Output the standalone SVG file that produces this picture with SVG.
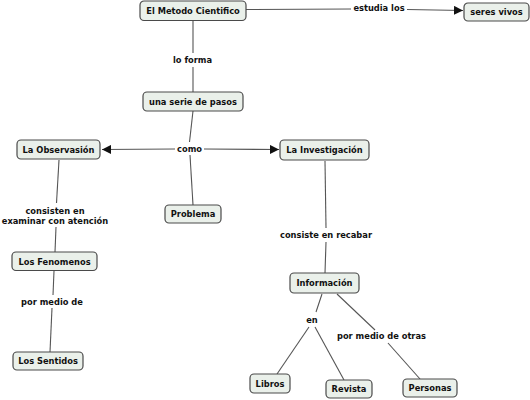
<svg xmlns="http://www.w3.org/2000/svg" width="530" height="400" viewBox="0 0 530 400">
<defs>
<style>
.n rect{fill:#eaf0ea;stroke:#4a4a4a;stroke-width:1.2}
.t{font-family:"DejaVu Sans",Verdana,sans-serif;font-weight:bold;font-size:8.3px;fill:#111;text-anchor:middle;dominant-baseline:central}
.c line{stroke:#555;stroke-width:1.1}
</style>
<marker id="ah" viewBox="0 0 10 10" refX="10" refY="5" markerWidth="9" markerHeight="9" markerUnits="userSpaceOnUse" orient="auto">
<path d="M0,0 L10,5 L0,10 z" fill="#111"/>
</marker>
</defs>
<rect width="530" height="400" fill="#fff"/>
<g id="connectors" class="c">
<line x1="246" y1="9.5" x2="351" y2="9"/>
<line x1="407" y1="9.5" x2="463" y2="10.5" marker-end="url(#ah)"/>
<line x1="193" y1="21" x2="193" y2="53"/>
<line x1="193" y1="67" x2="193" y2="92"/>
<line x1="193" y1="111" x2="189.5" y2="142"/>
<line x1="175" y1="149" x2="102" y2="149.5" marker-end="url(#ah)"/>
<line x1="204" y1="149" x2="279" y2="149.5" marker-end="url(#ah)"/>
<line x1="190" y1="155" x2="193" y2="205"/>
<line x1="59" y1="160" x2="56.5" y2="203"/>
<line x1="56" y1="227" x2="55" y2="252"/>
<line x1="54" y1="271" x2="53" y2="295"/>
<line x1="52" y1="308" x2="50" y2="352"/>
<line x1="325" y1="161" x2="326" y2="228"/>
<line x1="326" y1="242" x2="325" y2="273"/>
<line x1="322" y1="294" x2="316" y2="312"/>
<line x1="309" y1="327" x2="277" y2="374"/>
<line x1="315" y1="327" x2="344" y2="380"/>
<line x1="337" y1="294" x2="375" y2="330"/>
<line x1="388" y1="343" x2="420" y2="379"/>
</g>
<g id="labels">
<text class="t" x="379" y="7.5">estudia los</text>
<text class="t" x="192.5" y="60">lo forma</text>
<text class="t" x="189.5" y="148.5">como</text>
<text class="t" x="55" y="210.5">consisten en</text>
<text class="t" x="55" y="220.5">examinar con atención</text>
<text class="t" x="52" y="301.5">por medio de</text>
<text class="t" x="326" y="235">consiste en recabar</text>
<text class="t" x="312" y="320">en</text>
<text class="t" x="381.5" y="336">por medio de otras</text>
</g>
<g id="n-metodo" class="n"><rect x="140" y="1" width="106" height="19.5" rx="4"/><text class="t" x="193" y="10.5">El Metodo Cientifico</text></g>
<g id="n-seres" class="n"><rect x="464" y="3" width="65" height="18" rx="4"/><text class="t" x="496.5" y="12">seres vivos</text></g>
<g id="n-serie" class="n"><rect x="143" y="92" width="100" height="19" rx="4"/><text class="t" x="193" y="101.5">una serie de pasos</text></g>
<g id="n-observacion" class="n"><rect x="17" y="140" width="83" height="19" rx="4"/><text class="t" x="58.5" y="149.5">La Observasión</text></g>
<g id="n-investigacion" class="n"><rect x="280" y="140" width="89" height="20" rx="4"/><text class="t" x="324.5" y="150">La Investigación</text></g>
<g id="n-problema" class="n"><rect x="165" y="205" width="56" height="18" rx="4"/><text class="t" x="193" y="214">Problema</text></g>
<g id="n-fenomenos" class="n"><rect x="12" y="252" width="85" height="18.5" rx="4"/><text class="t" x="54.5" y="261.5">Los Fenomenos</text></g>
<g id="n-sentidos" class="n"><rect x="13" y="352" width="70" height="18" rx="4"/><text class="t" x="48" y="361">Los Sentidos</text></g>
<g id="n-informacion" class="n"><rect x="290" y="273" width="69" height="20" rx="4"/><text class="t" x="324.5" y="283">Información</text></g>
<g id="n-libros" class="n"><rect x="250" y="374" width="40" height="19" rx="4"/><text class="t" x="270" y="383.5">Libros</text></g>
<g id="n-revista" class="n"><rect x="326" y="380" width="46" height="18" rx="4"/><text class="t" x="349" y="389">Revista</text></g>
<g id="n-personas" class="n"><rect x="403" y="379" width="54" height="18" rx="4"/><text class="t" x="430" y="388">Personas</text></g>
</svg>
